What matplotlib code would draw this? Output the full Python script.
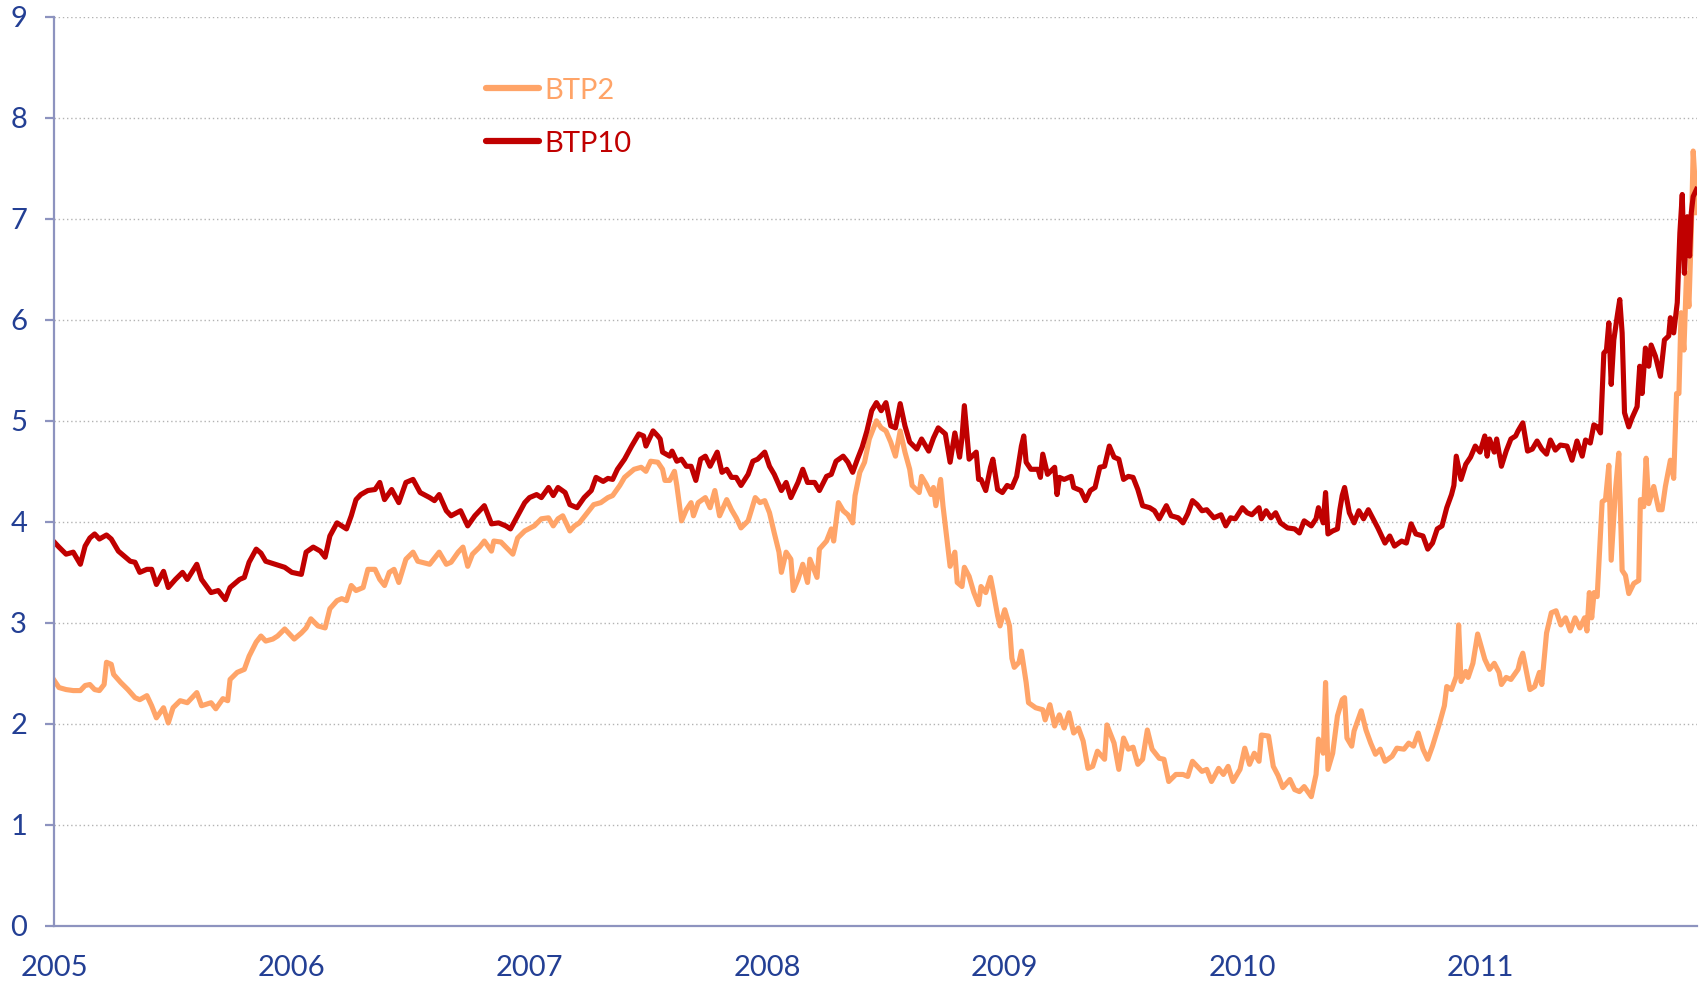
import matplotlib
matplotlib.use("Agg")
import matplotlib.pyplot as plt

# Italian government bond yields (%).
# times are decimal years, values are yields
btp10_t = [
    2005.00, 2005.02, 2005.05, 2005.08, 2005.11, 2005.13, 2005.15, 2005.17, 2005.19, 2005.22,
    2005.24, 2005.27, 2005.32, 2005.34, 2005.36, 2005.39, 2005.41, 2005.43, 2005.46, 2005.48,
    2005.51, 2005.54, 2005.56, 2005.60, 2005.62, 2005.66, 2005.69, 2005.72, 2005.74, 2005.78,
    2005.80, 2005.82, 2005.85, 2005.87, 2005.89, 2005.93, 2005.97, 2006.00, 2006.04, 2006.06,
    2006.09, 2006.12, 2006.14, 2006.16, 2006.19, 2006.23, 2006.25, 2006.27, 2006.29, 2006.32,
    2006.35, 2006.37, 2006.39, 2006.42, 2006.45, 2006.48, 2006.51, 2006.54, 2006.58, 2006.60,
    2006.62, 2006.65, 2006.67, 2006.71, 2006.74, 2006.77, 2006.81, 2006.84, 2006.87, 2006.90,
    2006.92, 2006.95, 2006.98, 2007.00, 2007.03, 2007.05, 2007.08, 2007.10, 2007.12, 2007.15,
    2007.17, 2007.20, 2007.23, 2007.26, 2007.28, 2007.31, 2007.33, 2007.35, 2007.37, 2007.40,
    2007.43, 2007.46, 2007.48, 2007.49, 2007.52, 2007.54, 2007.55, 2007.56, 2007.59, 2007.60,
    2007.62, 2007.64, 2007.66, 2007.68, 2007.70, 2007.72, 2007.74, 2007.76, 2007.79, 2007.81,
    2007.83, 2007.85, 2007.87, 2007.89, 2007.92, 2007.94, 2007.96, 2007.99, 2008.01, 2008.03,
    2008.06, 2008.08, 2008.10, 2008.13, 2008.15, 2008.17, 2008.20, 2008.22, 2008.25, 2008.27,
    2008.29, 2008.32, 2008.34, 2008.36, 2008.38, 2008.40, 2008.42, 2008.44, 2008.46, 2008.48,
    2008.50, 2008.52, 2008.54, 2008.56, 2008.58, 2008.60, 2008.63, 2008.65, 2008.68, 2008.70,
    2008.72, 2008.75, 2008.77, 2008.79, 2008.81, 2008.82, 2008.83, 2008.85, 2008.88, 2008.89,
    2008.90, 2008.92, 2008.94, 2008.95, 2008.97, 2008.99, 2009.01, 2009.03, 2009.05, 2009.07,
    2009.08, 2009.09, 2009.11, 2009.14, 2009.15, 2009.16, 2009.18, 2009.21, 2009.22, 2009.23,
    2009.25, 2009.28, 2009.29, 2009.32, 2009.34, 2009.36, 2009.38, 2009.40, 2009.42, 2009.44,
    2009.46, 2009.48, 2009.50, 2009.52, 2009.54, 2009.56, 2009.58, 2009.61, 2009.63, 2009.65,
    2009.68, 2009.70, 2009.73, 2009.75, 2009.77, 2009.79, 2009.81, 2009.83, 2009.85, 2009.88,
    2009.91, 2009.93, 2009.95, 2009.97, 2010.00, 2010.02, 2010.04, 2010.07, 2010.08, 2010.10,
    2010.12, 2010.14, 2010.16, 2010.19, 2010.22, 2010.24, 2010.26, 2010.29, 2010.31, 2010.32,
    2010.34, 2010.35, 2010.36, 2010.38, 2010.40, 2010.41, 2010.42, 2010.43, 2010.45, 2010.47,
    2010.49, 2010.51, 2010.53, 2010.55, 2010.57, 2010.60, 2010.62, 2010.64, 2010.67, 2010.69,
    2010.71, 2010.73, 2010.76, 2010.78, 2010.80, 2010.82, 2010.84, 2010.86, 2010.88, 2010.89,
    2010.90, 2010.92, 2010.94, 2010.96, 2010.98, 2011.00, 2011.02, 2011.03, 2011.04, 2011.06,
    2011.07, 2011.09, 2011.11, 2011.13, 2011.15, 2011.16, 2011.18, 2011.20, 2011.22, 2011.24,
    2011.26, 2011.28, 2011.296, 2011.317, 2011.338, 2011.366, 2011.387, 2011.408, 2011.430, 2011.444,
    2011.464, 2011.479, 2011.493, 2011.507, 2011.514, 2011.521, 2011.532, 2011.542, 2011.552, 2011.563,
    2011.577, 2011.588, 2011.598, 2011.608, 2011.626, 2011.640, 2011.661, 2011.672, 2011.682, 2011.696,
    2011.710, 2011.720, 2011.738, 2011.759, 2011.776, 2011.794, 2011.801, 2011.815, 2011.830, 2011.841,
    2011.851, 2011.860, 2011.872, 2011.882, 2011.889, 2011.897, 2011.911,
]
btp10_v = [
    3.80, 3.75, 3.68, 3.70, 3.58, 3.76, 3.84, 3.88, 3.83, 3.87,
    3.83, 3.71, 3.61, 3.60, 3.50, 3.53, 3.53, 3.38, 3.51, 3.35,
    3.43, 3.50, 3.43, 3.58, 3.43, 3.30, 3.32, 3.23, 3.35, 3.43,
    3.45, 3.60, 3.73, 3.69, 3.61, 3.58, 3.55, 3.50, 3.48, 3.70,
    3.75, 3.71, 3.65, 3.86, 3.99, 3.93, 4.06, 4.22, 4.27, 4.31,
    4.32, 4.39, 4.22, 4.32, 4.19, 4.39, 4.42, 4.29, 4.24, 4.21,
    4.27, 4.11, 4.06, 4.11, 3.96, 4.06, 4.16, 3.98, 3.99, 3.96,
    3.93, 4.06, 4.19, 4.24, 4.27, 4.24, 4.34, 4.26, 4.34, 4.29,
    4.17, 4.14, 4.24, 4.31, 4.44, 4.40, 4.43, 4.42, 4.52, 4.62,
    4.75, 4.87, 4.85, 4.75, 4.90, 4.85, 4.82, 4.69, 4.65, 4.70,
    4.60, 4.62, 4.55, 4.55, 4.41, 4.62, 4.65, 4.55, 4.69, 4.49,
    4.52, 4.44, 4.44, 4.36, 4.47, 4.60, 4.62, 4.69, 4.55, 4.47,
    4.31, 4.39, 4.24, 4.39, 4.52, 4.39, 4.39, 4.31, 4.45, 4.47,
    4.60, 4.65, 4.59, 4.49, 4.62, 4.74, 4.90, 5.10, 5.18, 5.10,
    5.18, 4.95, 4.93, 5.17, 4.95, 4.79, 4.72, 4.82, 4.70, 4.83,
    4.93, 4.87, 4.59, 4.88, 4.64, 4.83, 5.15, 4.62, 4.69, 4.42,
    4.42, 4.31, 4.54, 4.62, 4.32, 4.29, 4.36, 4.34, 4.45, 4.75,
    4.85, 4.59, 4.52, 4.52, 4.44, 4.67, 4.47, 4.54, 4.27, 4.44,
    4.42, 4.45, 4.34, 4.31, 4.21, 4.31, 4.34, 4.54, 4.55, 4.75,
    4.64, 4.62, 4.42, 4.45, 4.44, 4.32, 4.16, 4.14, 4.11, 4.03,
    4.16, 4.06, 4.04, 3.99, 4.08, 4.21, 4.17, 4.11, 4.12, 4.04,
    4.07, 3.96, 4.04, 4.03, 4.14, 4.09, 4.07, 4.14, 4.03, 4.11,
    4.04, 4.09, 3.99, 3.94, 3.93, 3.89, 4.01, 3.96, 4.03, 4.14,
    3.99, 4.29, 3.88, 3.91, 3.93, 4.12, 4.26, 4.34, 4.09, 3.99,
    4.11, 4.03, 4.12, 4.03, 3.94, 3.79, 3.86, 3.76, 3.81, 3.79,
    3.98, 3.88, 3.86, 3.73, 3.79, 3.93, 3.96, 4.14, 4.27, 4.36,
    4.65, 4.42, 4.57, 4.64, 4.75, 4.69, 4.85, 4.65, 4.82, 4.69,
    4.82, 4.55, 4.70, 4.82, 4.85, 4.90, 4.98, 4.70, 4.72, 4.80,
    4.72, 4.67, 4.81, 4.71, 4.76, 4.75, 4.61, 4.80, 4.65, 4.81,
    4.78, 4.96, 4.94, 4.88, 5.27, 5.67, 5.70, 5.97, 5.36, 5.80,
    6.03, 6.20, 5.87, 5.08, 4.94, 5.03, 5.14, 5.54, 5.27, 5.72,
    5.54, 5.75, 5.64, 5.44, 5.80, 5.84, 6.02, 5.87, 6.17, 6.86,
    7.24, 6.46, 7.02, 6.63, 7.06, 7.22, 7.29,
]

btp2_t = [
    2005.00, 2005.02, 2005.05, 2005.08, 2005.11, 2005.13, 2005.15, 2005.17, 2005.19, 2005.21,
    2005.22, 2005.24, 2005.25, 2005.28, 2005.31, 2005.34, 2005.36, 2005.39, 2005.41, 2005.43,
    2005.46, 2005.48, 2005.50, 2005.53, 2005.56, 2005.60, 2005.62, 2005.66, 2005.68, 2005.71,
    2005.73, 2005.74, 2005.77, 2005.80, 2005.82, 2005.85, 2005.87, 2005.89, 2005.92, 2005.94,
    2005.97, 2006.01, 2006.04, 2006.06, 2006.08, 2006.11, 2006.14, 2006.16, 2006.19, 2006.21,
    2006.23, 2006.25, 2006.27, 2006.30, 2006.32, 2006.35, 2006.37, 2006.39, 2006.41, 2006.43,
    2006.45, 2006.48, 2006.51, 2006.53, 2006.58, 2006.62, 2006.65, 2006.67, 2006.70, 2006.72,
    2006.74, 2006.76, 2006.79, 2006.81, 2006.84, 2006.85, 2006.88, 2006.93, 2006.95, 2006.98,
    2007.02, 2007.05, 2007.08, 2007.10, 2007.12, 2007.14, 2007.17, 2007.19, 2007.21, 2007.24,
    2007.27, 2007.30, 2007.33, 2007.35, 2007.38, 2007.40, 2007.44, 2007.47, 2007.49, 2007.51,
    2007.54, 2007.56, 2007.57, 2007.59, 2007.61, 2007.62, 2007.64, 2007.66, 2007.68, 2007.69,
    2007.71, 2007.74, 2007.76, 2007.78, 2007.80, 2007.83, 2007.85, 2007.87, 2007.89, 2007.92,
    2007.95, 2007.97, 2007.99, 2008.01, 2008.03, 2008.05, 2008.06, 2008.08, 2008.10, 2008.11,
    2008.13, 2008.15, 2008.17, 2008.18, 2008.20, 2008.21, 2008.22, 2008.25, 2008.27, 2008.28,
    2008.30, 2008.32, 2008.34, 2008.36, 2008.37, 2008.39, 2008.41, 2008.43, 2008.46, 2008.48,
    2008.50, 2008.52, 2008.54, 2008.56, 2008.58, 2008.60, 2008.61, 2008.64, 2008.65, 2008.67,
    2008.69, 2008.70, 2008.71, 2008.73, 2008.74, 2008.76, 2008.77, 2008.79, 2008.80, 2008.82,
    2008.83, 2008.85, 2008.87, 2008.89, 2008.90, 2008.92, 2008.94, 2008.95, 2008.97, 2008.98,
    2009.00, 2009.02, 2009.03, 2009.04, 2009.06, 2009.07, 2009.09, 2009.10, 2009.13, 2009.16,
    2009.17, 2009.19, 2009.21, 2009.23, 2009.25, 2009.27, 2009.29, 2009.31, 2009.33, 2009.35,
    2009.37, 2009.39, 2009.42, 2009.43, 2009.46, 2009.48, 2009.50, 2009.52, 2009.54, 2009.56,
    2009.58, 2009.60, 2009.62, 2009.65, 2009.67, 2009.69, 2009.72, 2009.75, 2009.77, 2009.79,
    2009.81, 2009.83, 2009.85, 2009.87, 2009.90, 2009.92, 2009.94, 2009.96, 2009.99, 2010.01,
    2010.03, 2010.05, 2010.07, 2010.08, 2010.11, 2010.13, 2010.15, 2010.17, 2010.20, 2010.22,
    2010.24, 2010.26, 2010.29, 2010.31, 2010.32, 2010.34, 2010.35, 2010.36, 2010.38, 2010.40,
    2010.42, 2010.43, 2010.44, 2010.46, 2010.47, 2010.50, 2010.52, 2010.54, 2010.56, 2010.58,
    2010.60, 2010.63, 2010.65, 2010.68, 2010.70, 2010.72, 2010.74, 2010.76, 2010.78, 2010.80,
    2010.83, 2010.85, 2010.86, 2010.88, 2010.90, 2010.91, 2010.92, 2010.94, 2010.95, 2010.97,
    2010.99, 2011.02, 2011.04, 2011.06, 2011.08, 2011.09, 2011.11, 2011.13, 2011.16, 2011.17,
    2011.18, 2011.21, 2011.23, 2011.25, 2011.26, 2011.28, 2011.30, 2011.32, 2011.34, 2011.36,
    2011.38, 2011.40, 2011.42, 2011.44, 2011.45, 2011.46, 2011.47, 2011.48, 2011.493, 2011.514,
    2011.528, 2011.542, 2011.552, 2011.570, 2011.584, 2011.598, 2011.612, 2011.626, 2011.647, 2011.668,
    2011.675, 2011.689, 2011.699, 2011.710, 2011.731, 2011.752, 2011.766, 2011.780, 2011.801, 2011.815,
    2011.827, 2011.837, 2011.846, 2011.858, 2011.869, 2011.879, 2011.889, 2011.897, 2011.905, 2011.912,
]
btp2_v = [
    2.43, 2.36, 2.34, 2.33, 2.33, 2.38, 2.39, 2.34, 2.33, 2.39,
    2.61, 2.59, 2.49, 2.41, 2.34, 2.26, 2.24, 2.28, 2.18, 2.06,
    2.16, 2.01, 2.16, 2.23, 2.21, 2.31, 2.18, 2.21, 2.15, 2.25,
    2.23, 2.44, 2.51, 2.54, 2.67, 2.81, 2.87, 2.82, 2.84, 2.87,
    2.94, 2.84, 2.90, 2.95, 3.04, 2.97, 2.95, 3.14, 3.22, 3.24,
    3.22, 3.37, 3.32, 3.35, 3.53, 3.53, 3.43, 3.37, 3.50, 3.53,
    3.40, 3.63, 3.70, 3.61, 3.58, 3.70, 3.58, 3.60, 3.70, 3.75,
    3.56, 3.68, 3.75, 3.81, 3.71, 3.81, 3.80, 3.68, 3.84, 3.91,
    3.96, 4.03, 4.04, 3.96, 4.03, 4.06, 3.91, 3.96, 3.99, 4.08,
    4.17, 4.19, 4.24, 4.26, 4.36, 4.44, 4.52, 4.54, 4.50, 4.60,
    4.59, 4.52, 4.41, 4.41, 4.50, 4.36, 4.01, 4.12, 4.19, 4.06,
    4.19, 4.24, 4.14, 4.31, 4.06, 4.22, 4.12, 4.04, 3.94, 4.01,
    4.24, 4.19, 4.21, 4.09, 3.89, 3.70, 3.50, 3.70, 3.63, 3.32,
    3.43, 3.58, 3.40, 3.63, 3.51, 3.45, 3.73, 3.81, 3.93, 3.81,
    4.19, 4.11, 4.07, 3.99, 4.26, 4.49, 4.59, 4.82, 5.00, 4.93,
    4.90, 4.79, 4.65, 4.90, 4.69, 4.52, 4.36, 4.29, 4.45, 4.37,
    4.27, 4.34, 4.16, 4.42, 4.16, 3.76, 3.56, 3.70, 3.40, 3.36,
    3.55, 3.46, 3.30, 3.18, 3.36, 3.30, 3.45, 3.33, 3.07, 2.97,
    3.13, 2.97, 2.65, 2.56, 2.61, 2.72, 2.41, 2.21, 2.16, 2.14,
    2.04, 2.19, 1.98, 2.09, 1.96, 2.11, 1.91, 1.96, 1.83, 1.56,
    1.58, 1.73, 1.65, 1.99, 1.81, 1.55, 1.86, 1.75, 1.77, 1.60,
    1.65, 1.94, 1.75, 1.66, 1.65, 1.43, 1.50, 1.50, 1.48, 1.63,
    1.58, 1.53, 1.55, 1.43, 1.56, 1.50, 1.58, 1.43, 1.55, 1.76,
    1.60, 1.71, 1.63, 1.89, 1.88, 1.58, 1.49, 1.37, 1.45, 1.35,
    1.33, 1.38, 1.28, 1.50, 1.85, 1.71, 2.41, 1.55, 1.71, 2.08,
    2.24, 2.26, 1.86, 1.78, 1.93, 2.13, 1.94, 1.81, 1.70, 1.75,
    1.63, 1.68, 1.76, 1.75, 1.81, 1.78, 1.91, 1.75, 1.65, 1.78,
    2.01, 2.18, 2.37, 2.34, 2.47, 2.98, 2.42, 2.52, 2.46, 2.60,
    2.89, 2.64, 2.54, 2.60, 2.51, 2.39, 2.46, 2.44, 2.54, 2.64,
    2.70, 2.34, 2.37, 2.51, 2.39, 2.90, 3.10, 3.12, 2.98, 3.05,
    2.92, 3.05, 2.95, 3.05, 2.92, 3.30, 3.05, 3.30, 3.26, 4.20,
    4.22, 4.56, 3.62, 4.32, 4.68, 3.52, 3.47, 3.29, 3.39, 3.42,
    4.22, 4.15, 4.63, 4.18, 4.35, 4.12, 4.12, 4.35, 4.61, 4.43,
    5.27, 5.27, 6.07, 5.70, 6.46, 6.13, 6.86, 7.67, 7.36, 7.06,
]

years = [2005, 2006, 2007, 2008, 2009, 2010, 2011]
y_ticks = [0, 1, 2, 3, 4, 5, 6, 7, 8, 9]

c_btp2 = "#ffa468"
c_btp10 = "#c00000"
c_text = "#233f94"
c_axis = "#8d93bf"

plt.rcParams["font.family"] = ["Lato", "DejaVu Sans"]

fig = plt.figure(figsize=(17.05, 9.85), dpi=100)
ax = fig.add_axes([0.0318, 0.0599, 0.9635, 0.9232])

ax.plot(btp2_t, btp2_v, color=c_btp2, lw=3.7, label="BTP2", solid_joinstyle="round")
ax.plot(btp10_t, btp10_v, color=c_btp10, lw=3.7, label="BTP10", solid_joinstyle="round")

ax.set_xlim(2005.0, 2011.913)
ax.set_ylim(0, 9)
ax.set_xticks(years)
ax.set_xticklabels([str(y) for y in years])
ax.set_yticks(y_ticks)

for v in y_ticks[1:]:
    ax.axhline(v, color="#b3b3b3", lw=1.0, linestyle=(0, (1, 2)), zorder=0)

for s in ["top", "right"]:
    ax.spines[s].set_visible(False)
for s in ["left", "bottom"]:
    ax.spines[s].set_color(c_axis)
    ax.spines[s].set_linewidth(1.6)

ax.tick_params(axis="y", colors=c_axis, labelcolor=c_text, length=6.5, width=1.6,
               pad=13, labelsize=21)
ax.tick_params(axis="x", length=0, pad=21, labelcolor=c_text, labelsize=21)

leg = ax.legend(loc="upper left", bbox_to_anchor=(0.263, 0.933), frameon=False,
                fontsize=21, handlelength=1.8, handletextpad=0.2, labelspacing=0.93,
                borderpad=0, borderaxespad=0, labelcolor="linecolor")
for h in leg.get_lines():
    h.set_linewidth(4.5)
    h.set_solid_capstyle("round")

fig.savefig("out.png", dpi=100)
